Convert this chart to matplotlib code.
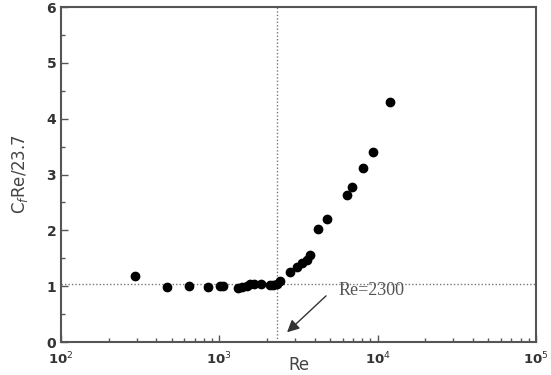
import matplotlib
matplotlib.use("Agg")
import matplotlib.pyplot as plt
import numpy as np

# data
re_vals = [293, 465, 644, 852, 1010, 1051, 1307, 1385, 1489, 1563, 1656, 1834,
           2090, 2193, 2300, 2420, 2797, 3083, 3315, 3565, 3741, 4222, 4767,
           6378, 6860, 8123, 9395, 11970]
cf_vals = [1.19, 0.98, 1.00, 0.98, 1.01, 1.01, 0.97, 0.99, 1.01, 1.03, 1.04, 1.03,
           1.02, 1.02, 1.04, 1.10, 1.25, 1.35, 1.41, 1.47, 1.56, 2.03, 2.20,
           2.63, 2.77, 3.11, 3.41, 4.29]
re_crit = 2300
laminar_level = 1.03
y_ticks = [0, 1, 2, 3, 4, 5, 6]
x_ticks = [1e2, 1e3, 1e4, 1e5]
x_ticklabels = ["10$^2$", "10$^3$", "10$^4$", "10$^5$"]

gray = "#555555"

fig = plt.figure(figsize=(5.51, 3.75), dpi=100)
ax = fig.add_axes([0.1107, 0.088, 0.8621, 0.8933])

ax.axvline(re_crit, color="#777777", ls=(0, (1, 1.5)), lw=1.0, zorder=1)
ax.axhline(laminar_level, color="#777777", ls=(0, (1, 1.5)), lw=1.0, zorder=1)

ax.plot(re_vals, cf_vals, "o", color="black", ms=6, zorder=3)

ax.set_xscale("log")
ax.set_xlim(1e2, 1e5)
ax.set_ylim(0, 6)
ax.set_xticks(x_ticks)
ax.set_xticklabels(x_ticklabels, fontweight="bold", color="#333333", fontsize=9.5)
ax.set_yticks(y_ticks)
ax.set_yticks(np.arange(0.5, 6, 1.0), minor=True)
ax.set_yticklabels([str(t) for t in y_ticks], fontweight="bold", color="#333333", fontsize=10)

ax.tick_params(which="both", direction="in", color=gray)
ax.tick_params(which="major", length=5, width=1)
ax.tick_params(which="minor", length=3, width=1)
ax.tick_params(axis="x", pad=6)
for s in ax.spines.values():
    s.set_color(gray)
    s.set_linewidth(1.5)

ax.set_xlabel("Re", color="#444444", fontsize=12, labelpad=-8)
ax.set_ylabel("C$_f$Re/23.7", color="#444444", fontsize=12, labelpad=12)

ax.annotate("", xy=(2600, 0.14), xytext=(4860, 0.86),
            arrowprops=dict(arrowstyle="-|>", color="#333333", lw=1.0,
                            mutation_scale=18))
ax.text(5620, 0.92, "Re=2300", family="Liberation Serif", fontsize=13,
        color="#555555", va="center", ha="left")

fig.savefig("out.png", dpi=100)
